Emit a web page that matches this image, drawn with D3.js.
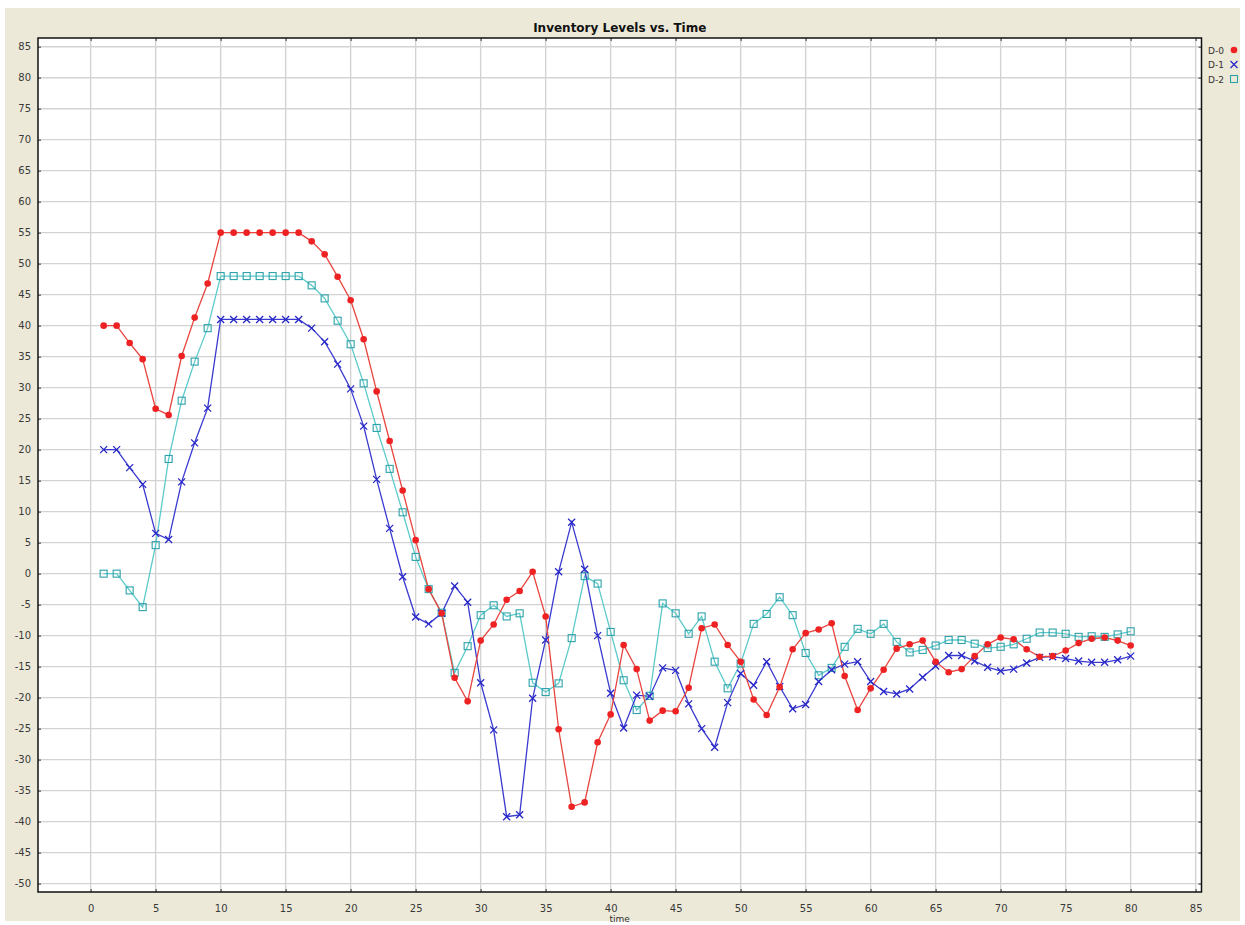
<!DOCTYPE html>
<html>
<head>
<meta charset="utf-8">
<script src="https://cdn.jsdelivr.net/npm/d3@7"></script>
<style>
  html, body { margin: 0; padding: 0; background: #ffffff; }
  svg { display: block; }
</style>
</head>
<body>
<svg id="chart" width="1245" height="925"></svg>
<script>
// ---------------- data ----------------
const chartTitle = "Inventory Levels vs. Time";
const xAxisLabel = "time";
const seriesNames = ["D-0", "D-1", "D-2"];

const time = [1,2,3,4,5,6,7,8,9,10,11,12,13,14,15,16,17,18,19,20,
  21,22,23,24,25,26,27,28,29,30,31,32,33,34,35,36,37,38,39,40,
  41,42,43,44,45,46,47,48,49,50,51,52,53,54,55,56,57,58,59,60,
  61,62,63,64,65,66,67,68,69,70,71,72,73,74,75,76,77,78,79,80];

const d0 = [40,40,37.2,34.6,26.6,25.6,35.1,41.3,46.8,55,
  55,55,55,55,55,55,53.6,51.5,47.9,44.1,
  37.8,29.4,21.4,13.4,5.4,-2.5,-6.4,-16.8,-20.6,-10.8,
  -8.2,-4.2,-2.8,0.3,-6.9,-25.1,-37.6,-36.9,-27.2,-22.7,
  -11.5,-15.4,-23.7,-22.1,-22.2,-18.4,-8.8,-8.2,-11.5,-14.2,
  -20.3,-22.8,-18.3,-12.2,-9.6,-9.0,-8.0,-16.5,-22,-18.5,
  -15.5,-12.1,-11.4,-10.8,-14.2,-15.9,-15.4,-13.3,-11.4,-10.3,
  -10.6,-12.2,-13.4,-13.3,-12.4,-11.2,-10.5,-10.3,-10.8,-11.6];

const d1 = [20,20,17.1,14.4,6.5,5.5,14.8,21.1,26.7,41,
  41,41,41,41,41,41,39.6,37.4,33.8,29.8,
  23.8,15.2,7.3,-0.5,-7,-8.1,-6.4,-2,-4.6,-17.6,
  -25.2,-39.2,-38.9,-20.1,-10.7,0.3,8.3,0.7,-10,-19.3,
  -24.9,-19.6,-19.8,-15.2,-15.6,-21,-25,-28,-20.8,-16.1,
  -18,-14.2,-18.2,-21.8,-21.1,-17.4,-15.5,-14.6,-14.2,-17.4,
  -19,-19.4,-18.6,-16.7,-14.9,-13.2,-13.2,-14.1,-15.1,-15.7,
  -15.4,-14.4,-13.5,-13.4,-13.7,-14.1,-14.3,-14.3,-13.9,-13.3];

const d2 = [0,0,-2.7,-5.4,4.6,18.5,27.9,34.2,39.6,48,
  48,48,48,48,48,48,46.5,44.4,40.8,37,
  30.7,23.5,16.9,9.9,2.7,-2.5,-6.3,-16,-11.7,-6.7,
  -5.1,-6.9,-6.4,-17.6,-19.1,-17.7,-10.4,-0.4,-1.6,-9.4,
  -17.2,-22,-19.7,-4.8,-6.4,-9.7,-6.9,-14.2,-18.5,-14.5,
  -8.1,-6.5,-3.8,-6.7,-12.8,-16.4,-15.2,-11.8,-8.9,-9.7,
  -8.1,-11,-12.7,-12.3,-11.6,-10.7,-10.7,-11.3,-12,-11.8,
  -11.4,-10.5,-9.5,-9.5,-9.7,-10.2,-10.1,-10.2,-9.8,-9.3];

const xTicks = [0,5,10,15,20,25,30,35,40,45,50,55,60,65,70,75,80,85];
const yTicks = [85,80,75,70,65,60,55,50,45,40,35,30,25,20,15,10,5,0,
  -5,-10,-15,-20,-25,-30,-35,-40,-45,-50];

// ---------------- layout / styles ----------------
const W = 1245, H = 925;
const plot = { left: 38, top: 38, right: 1201.5, bottom: 892 };
const styles = [
  { line: "#e8453f", mark: "#ee2222", shape: "circle" },
  { line: "#3a3ad0", mark: "#2828c8", shape: "cross" },
  { line: "#5ccaca", mark: "#2ea2aa", shape: "square" }
];
const series = [d0, d1, d2].map((vals, i) => ({
  name: seriesNames[i],
  style: styles[i],
  points: time.map((t, j) => ({ t: t, v: vals[j] }))
}));

const svg = d3.select("#chart");
svg.append("rect").attr("x", 0).attr("y", 0).attr("width", W).attr("height", H).attr("fill", "#ffffff");
svg.append("rect").attr("x", 5).attr("y", 8).attr("width", 1235).attr("height", 913).attr("fill", "#ECE9D8");

const x = d3.scaleLinear().domain([-4.05, 85.45]).range([plot.left, plot.right]);
const y = d3.scaleLinear().domain([-51.35, 86.4]).range([plot.bottom, plot.top]);

svg.append("rect")
  .attr("x", plot.left).attr("y", plot.top)
  .attr("width", plot.right - plot.left).attr("height", plot.bottom - plot.top)
  .attr("fill", "#ffffff");

// gridlines
const grid = svg.append("g").attr("stroke", "#d3d3d3").attr("stroke-width", 1.4);
grid.selectAll("line.gx").data(xTicks).join("line")
  .attr("x1", d => x(d)).attr("x2", d => x(d))
  .attr("y1", plot.top).attr("y2", plot.bottom);
grid.selectAll("line.gy").data(yTicks).join("line")
  .attr("x1", plot.left).attr("x2", plot.right)
  .attr("y1", d => y(d)).attr("y2", d => y(d));

// axes (labels + inside ticks)
const font = "'DejaVu Sans', Verdana, sans-serif";
const fmt = d => String(d); // plain hyphen-minus like the original
const xAxisBottom = d3.axisBottom(x).tickValues(xTicks).tickSize(-3).tickPadding(13).tickFormat(fmt);
const yAxisLeft = d3.axisLeft(y).tickValues(yTicks).tickSize(-3).tickPadding(7).tickFormat(fmt);
const xAxisTop = d3.axisTop(x).tickValues(xTicks).tickSize(-3).tickFormat("");
const yAxisRight = d3.axisRight(y).tickValues(yTicks).tickSize(-3).tickFormat("");

function styleAxis(g) {
  g.select(".domain").remove();
  g.selectAll(".tick line").attr("stroke", "#555").attr("stroke-width", 1.2);
  g.selectAll(".tick text").attr("fill", "#3a3a3a").style("font-family", font).style("font-size", "10px");
}
svg.append("g").attr("transform", `translate(0,${plot.bottom})`).call(xAxisBottom).call(styleAxis);
svg.append("g").attr("transform", `translate(${plot.left},0)`).call(yAxisLeft).call(styleAxis);
svg.append("g").attr("transform", `translate(0,${plot.top})`).call(xAxisTop).call(styleAxis);
svg.append("g").attr("transform", `translate(${plot.right},0)`).call(yAxisRight).call(styleAxis);

// border
svg.append("rect")
  .attr("x", plot.left).attr("y", plot.top)
  .attr("width", plot.right - plot.left).attr("height", plot.bottom - plot.top)
  .attr("fill", "none").attr("stroke", "#111").attr("stroke-width", 1.5);

// lines (drawn in reverse series order, like JFreeChart)
const lineGen = d3.line().x(d => x(d.t)).y(d => y(d.v));
const rev = series.slice().reverse();
svg.append("g").selectAll("path").data(rev).join("path")
  .attr("d", s => lineGen(s.points))
  .attr("fill", "none")
  .attr("stroke", s => s.style.line)
  .attr("stroke-width", 1.3);

// markers
function drawMarker(g, shape, color, cx, cy) {
  if (shape === "circle") {
    g.append("circle").attr("cx", cx).attr("cy", cy).attr("r", 3.3).attr("fill", color);
  } else if (shape === "cross") {
    const r = 3.5;
    g.append("path")
      .attr("d", `M${cx - r},${cy - r}L${cx + r},${cy + r}M${cx - r},${cy + r}L${cx + r},${cy - r}`)
      .attr("stroke", color).attr("stroke-width", 1.3).attr("fill", "none");
  } else {
    g.append("rect").attr("x", cx - 3.5).attr("y", cy - 3.5).attr("width", 7).attr("height", 7)
      .attr("fill", "none").attr("stroke", color).attr("stroke-width", 1.1);
  }
}
const markG = svg.append("g");
rev.forEach(s => {
  const g = markG.append("g");
  s.points.forEach(p => drawMarker(g, s.style.shape, s.style.mark, x(p.t), y(p.v)));
});

// title
svg.append("text")
  .attr("x", (plot.left + plot.right) / 2).attr("y", 32)
  .attr("text-anchor", "middle")
  .style("font-family", font).style("font-size", "12px").style("font-weight", "bold")
  .attr("fill", "#111")
  .text(chartTitle);

// x axis label
svg.append("text")
  .attr("x", (plot.left + plot.right) / 2).attr("y", 922)
  .attr("text-anchor", "middle")
  .style("font-family", font).style("font-size", "9px")
  .attr("fill", "#333")
  .text(xAxisLabel);

// legend
const legend = svg.append("g");
series.forEach((s, i) => {
  const ly = 50 + i * 14.5;
  legend.append("text")
    .attr("x", 1208).attr("y", ly + 3.5)
    .style("font-family", font).style("font-size", "9px")
    .attr("fill", "#333")
    .text(s.name);
  drawMarker(legend, s.style.shape, s.style.mark, 1234, ly);
});
</script>
</body>
</html>
